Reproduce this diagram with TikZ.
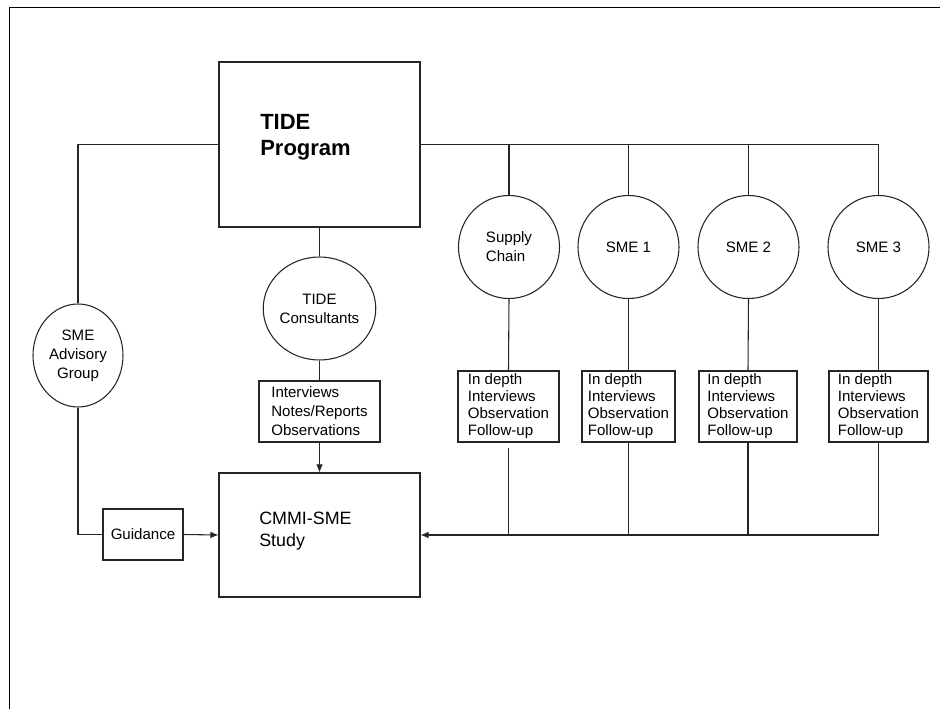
\documentclass[tikz,border=0pt]{standalone}
\usepackage{fontspec}
\setmainfont{Liberation Sans}
\usetikzlibrary{shapes.geometric,arrows.meta}
\tikzset{
  ln/.style={draw=black!85, line width=0.8pt},
  arr/.style={ln, -{Latex[length=6pt,width=5pt]}},
  box/.style={ln, rectangle, inner sep=1pt, align=left, font=\fontsize{11.3}{12.75}\selectfont},
  oval/.style={ln, ellipse, inner sep=0pt, align=center, minimum width=75.75pt, minimum height=77.25pt, font=\fontsize{11.3}{14.25}\selectfont},
  deep/.style={box, minimum height=53.25pt},
}
\begin{document}
\begin{tikzpicture}[x=0.75pt,y=-0.75pt]
\useasboundingbox (0,0) rectangle (940,709);
% frame
\draw[line width=1.3pt] (9.5,709) -- (9.5,7.5) -- (940,7.5);

% main boxes
\node[ln, rectangle, minimum width=150.75pt, minimum height=123.75pt] (tide) at (319.5,144.5) {};
\node[anchor=west, inner sep=0pt, align=left, font=\fontsize{16.5}{19.5}\selectfont\bfseries] (tidetxt) at (260,137) {TIDE\\Program};
\node[ln, rectangle, minimum width=150.75pt, minimum height=93pt] (cmmi) at (319.5,535) {};
\node[anchor=west, inner sep=0pt, align=left, font=\fontsize{13.4}{16.5}\selectfont] (cmmitxt) at (259,531) {CMMI-SME\\Study};

% ovals
\node[oval] (cons) at (319.5,308.5) {TIDE\\Consultants};
\node[oval, minimum width=67.5pt] (adv) at (78,355.5) {SME\\Advisory\\Group};
\node[oval, align=left] (sc) at (509,247) {Supply\\Chain};
\node[oval] (s1) at (628.5,247) {SME 1};
\node[oval] (s2) at (748.5,247) {SME 2};
\node[oval] (s3) at (878.5,247) {SME 3};

% small boxes
\node[box, minimum width=90.75pt, minimum height=45.75pt, font=\fontsize{11.3}{14.25}\selectfont] (notes) at (319.5,411.5) {Interviews\\Notes/Reports\\Observations};
\node[box, minimum width=60pt, minimum height=38.25pt] (guid) at (143,534.5) {Guidance};
\node[deep, minimum width=75.75pt] (b1) at (508.5,406.5) {In depth\\Interviews\\Observation\\Follow-up};
\node[deep, minimum width=69.75pt] (b2) at (628.5,406.5) {In depth\\Interviews\\Observation\\Follow-up};
\node[deep, minimum width=73.5pt] (b3) at (748,406.5) {In depth\\Interviews\\Observation\\Follow-up};
\node[deep, minimum width=74.25pt] (b4) at (878.5,406.5) {In depth\\Interviews\\Observation\\Follow-up};

% connectors
\draw[ln] (tide.west) -| (adv.north);
\draw[ln] (tide.east) -| (s3.north);
\draw[ln] (sc.north) -- (sc.north |- tide.east);
\draw[ln] (s1.north) -- (s1.north |- tide.east);
\draw[ln] (s2.north) -- (s2.north |- tide.east);
\draw[ln] (tide.south) -- (cons.north);
\draw[ln] (cons.south) -- (notes.north);
\draw[arr] (notes.south) -- (cmmi.north);
\draw[ln] (adv.south) |- (guid.west);
\draw[arr] (guid.east) -- (cmmi.west);
\draw[ln] (sc.south) -- (b1.north);
\draw[ln] (s1.south) -- (b2.north);
\draw[ln] (s2.south) -- (b3.north);
\draw[ln] (s3.south) -- (b4.north);
\draw[arr] (b4.south) |- (cmmi.east);
\draw[ln] (b3.south) -- (b3.south |- cmmi.east);
\draw[ln] (b2.south) -- (b2.south |- cmmi.east);
\draw[ln, shorten <=3.75pt] (b1.south) -- (b1.south |- cmmi.east);
\end{tikzpicture}
\end{document}
